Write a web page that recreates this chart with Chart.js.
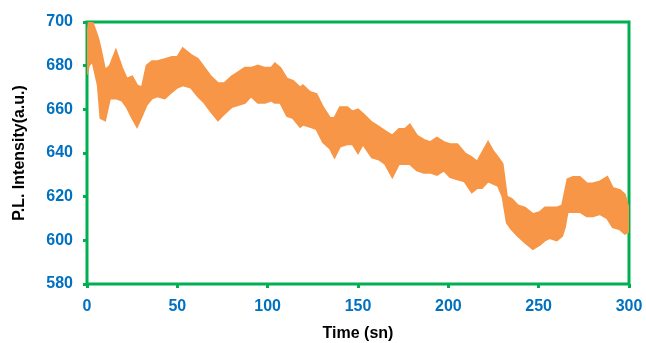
<!DOCTYPE html>
<html>
<head>
<meta charset="utf-8">
<script src="https://cdn.jsdelivr.net/npm/chart.js@4/dist/chart.umd.min.js"></script>
<style>
  html, body { margin: 0; padding: 0; background: #fff; }
  #wrap { width: 646px; height: 343px; }
</style>
</head>
<body>
<div id="wrap"><canvas id="chart"></canvas></div>
<script>
const timeSec = [0, 1, 3, 6, 7.5, 10, 12.7, 16, 19.4, 22, 25, 27.7, 30.4, 33, 36, 39, 43, 47, 50, 53,
  57.5, 61.4, 65, 68.6, 72.5, 76, 80, 83.6, 87.4, 90.8, 94.6, 98.5, 102, 104, 107, 110.7, 114, 118,
  119.5, 123.4, 127, 130.6, 134.5, 137, 140, 144, 147, 150, 152.7, 157.7, 161.6, 165, 169, 172.7,
  176, 178.7, 182.6, 186.5, 190, 193.7, 197.6, 201, 205, 209, 213, 216, 218.6, 222, 224.7, 227.5,
  230, 232.4, 235, 238.5, 242.4, 246.8, 250.7, 253.5, 256, 260, 263, 264.5, 266, 269, 272.8, 276.7,
  280, 284, 288, 291, 295, 297.7, 300];
// upper edge of the noisy P.L. trace (a.u.)
const upperPL = [692, 700, 700, 693, 688, 678, 680, 687, 679, 674, 675, 671, 670, 680, 682, 682, 683, 684, 684, 688,
  685, 683, 679, 675, 672, 672, 675, 677, 679, 679, 680, 679, 679, 681, 679, 674, 673, 670,
  671, 668, 667, 661, 656, 656, 661, 661, 659, 660, 658, 654, 652, 650, 648, 651,
  651, 653, 648, 646, 645, 647, 645, 644, 644, 640, 638, 636, 640, 645, 641, 638,
  635, 620, 619, 616, 615, 612, 613, 615, 615, 615, 616, 622, 628, 629, 629, 626,
  626, 627, 629, 624, 623, 621, 614];
// lower edge of the noisy P.L. trace (a.u.)
const lowerPL = [676, 680, 682, 671, 656, 655, 665, 665, 664, 661, 656, 652, 657, 662, 665, 666, 665, 668, 670, 671,
  670, 666, 663, 659, 655, 658, 661, 662, 663, 666, 663, 663, 664, 663, 663, 657, 656, 652,
  653, 652, 651, 645, 642, 638, 643, 644, 644, 640, 644, 638, 637, 635, 629, 635,
  635, 635, 632, 631, 631, 630, 632, 629, 628, 627, 622, 624, 624, 627, 626, 625,
  620, 608, 605, 602, 599, 596, 598, 600, 601, 600, 602, 606, 613, 613, 613, 611,
  611, 612, 610, 606, 605, 603, 604];
const xTicks = [0, 50, 100, 150, 200, 250, 300];
const yTicks = [580, 600, 620, 640, 660, 680, 700];

const orange = "#f79646";
const green = "#00b050";
const blue = "#0070c0";

const upperData = timeSec.map((t, i) => ({ x: t, y: upperPL[i] }));
const lowerData = timeSec.map((t, i) => ({ x: t, y: lowerPL[i] }));

// green frame around the plot area
const frame = {
  id: "frame",
  beforeDatasetsDraw(chart) {
    const { ctx, chartArea: a } = chart;
    ctx.save();
    ctx.strokeStyle = green;
    ctx.lineWidth = 3;
    ctx.strokeRect(a.left, a.top, a.right - a.left, a.bottom - a.top);
    ctx.restore();
  }
};

const tickFont = { family: "'Liberation Sans', Arial, sans-serif", size: 16, weight: "bold" };

new Chart(document.getElementById("chart"), {
  type: "line",
  data: {
    datasets: [
      {
        data: upperData,
        borderColor: orange,
        borderWidth: 2,
        pointRadius: 0,
        tension: 0,
        fill: false
      },
      {
        data: lowerData,
        borderColor: orange,
        backgroundColor: orange,
        borderWidth: 2,
        pointRadius: 0,
        tension: 0,
        fill: "-1"
      }
    ]
  },
  options: {
    responsive: true,
    maintainAspectRatio: false,
    animation: false,
    layout: { padding: { top: 22, right: 17, left: 0, bottom: 0 } },
    plugins: { legend: { display: false }, tooltip: { enabled: false } },
    scales: {
      x: {
        type: "linear",
        min: 0,
        max: 300,
        afterBuildTicks: (s) => { s.ticks = xTicks.map(v => ({ value: v })); },
        afterFit: (s) => { s.height = 59; s.paddingLeft = 0; s.paddingRight = 0; },
        border: { display: false },
        grid: { drawOnChartArea: false, drawTicks: true, tickLength: 4, color: green, lineWidth: 3 },
        ticks: { color: blue, font: tickFont, padding: 9, maxRotation: 0 },
        title: { display: true, text: "Time (sn)", color: "#000", font: tickFont, padding: { top: 0, bottom: 0 } }
      },
      y: {
        min: 580,
        max: 700,
        afterBuildTicks: (s) => { s.ticks = yTicks.map(v => ({ value: v })); },
        afterFit: (s) => { s.width = 87; s.paddingTop = 0; s.paddingBottom = 0; },
        border: { display: false },
        grid: { drawOnChartArea: false, drawTicks: true, tickLength: 4, color: green, lineWidth: 3 },
        ticks: { color: blue, font: tickFont, padding: 10 },
        title: { display: true, text: "P.L. Intensity(a.u.)", color: "#000", font: tickFont, padding: { top: 10, bottom: 0 } }
      }
    }
  },
  plugins: [frame]
});
</script>
</body>
</html>
